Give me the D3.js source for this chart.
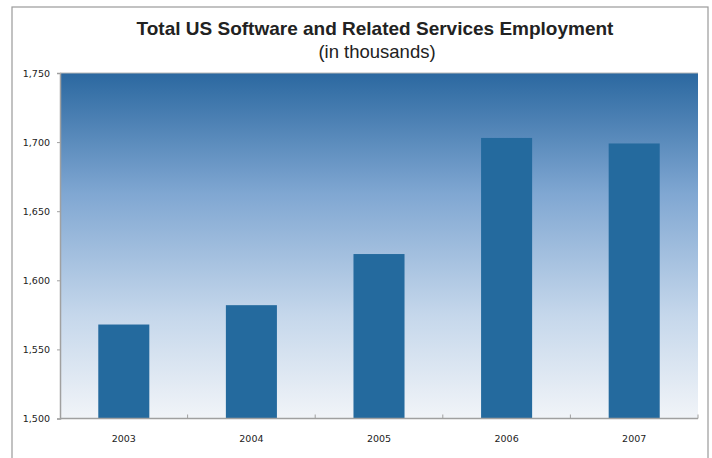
<!DOCTYPE html>
<html>
<head>
<meta charset="utf-8">
<script src="https://cdn.jsdelivr.net/npm/d3@7"></script>
<style>
  html, body { margin: 0; padding: 0; background: #ffffff; }
  svg { display: block; }
</style>
</head>
<body>
<script>
// Employment in US software and related services, thousands of jobs
const years = ["2003", "2004", "2005", "2006", "2007"];
const employment = [1568, 1582, 1619, 1703, 1699];
const yTicks = [1500, 1550, 1600, 1650, 1700, 1750];

const W = 712, H = 458;
const margin = { left: 60, right: 14, top: 73, bottom: 39.5 };

const svg = d3.select("body").append("svg")
  .attr("width", W).attr("height", H);

const defs = svg.append("defs");
const grad = defs.append("linearGradient")
  .attr("id", "plotBg").attr("x1", 0).attr("y1", 0).attr("x2", 0).attr("y2", 1);
grad.append("stop").attr("offset", "0%").attr("stop-color", "#2b68a0");
grad.append("stop").attr("offset", "35%").attr("stop-color", "#80a7d2");
grad.append("stop").attr("offset", "70%").attr("stop-color", "#c5d7eb");
grad.append("stop").attr("offset", "100%").attr("stop-color", "#f1f4f8");

// outer frame
svg.append("rect")
  .attr("x", 12).attr("y", 7).attr("width", 696).attr("height", 460)
  .attr("fill", "#ffffff").attr("stroke", "#9a9a9a").attr("stroke-width", 1.2);

const x = d3.scaleBand().domain(years)
  .range([margin.left, W - margin.right]).paddingInner(0.6).paddingOuter(0.3);
const xOuter = d3.scaleBand().domain(years)
  .range([margin.left, W - margin.right]);
const y = d3.scaleLinear().domain([1500, 1750])
  .range([H - margin.bottom, margin.top]);

// plot background
svg.append("rect")
  .attr("x", margin.left).attr("y", y(1750))
  .attr("width", W - margin.right - margin.left)
  .attr("height", y(1500) - y(1750))
  .attr("fill", "url(#plotBg)");

// bars
svg.append("g").selectAll("rect").data(years).join("rect")
  .attr("x", d => x(d))
  .attr("width", x.bandwidth())
  .attr("y", (d, i) => y(employment[i]))
  .attr("height", (d, i) => y(1500) - y(employment[i]))
  .attr("fill", "#246a9e");

// y axis
const yAxis = d3.axisLeft(y).tickValues(yTicks)
  .tickFormat(d3.format(",")).tickSize(3).tickPadding(7);
const gy = svg.append("g")
  .attr("transform", `translate(${margin.left},0)`).call(yAxis);
gy.select(".domain").attr("stroke", "#a0a0a0").attr("stroke-width", 1.5);
gy.selectAll(".tick line").attr("stroke", "#a0a0a0");
gy.selectAll("text").attr("fill", "#222")
  .style("font-family", "'DejaVu Sans', Verdana, sans-serif").style("font-size", "9.5px");

// x axis: ticks at category boundaries
const gx = svg.append("g")
  .attr("transform", `translate(0,${y(1500)})`);
gx.append("line")
  .attr("x1", margin.left).attr("x2", W - margin.right)
  .attr("stroke", "#a0a0a0").attr("stroke-width", 1.5);
gx.selectAll("line.tk").data(years.slice(1).concat(["end"])).join("line")
  .attr("class", "tk")
  .attr("x1", d => d === "end" ? W - margin.right : xOuter(d))
  .attr("x2", d => d === "end" ? W - margin.right : xOuter(d))
  .attr("y1", 0).attr("y2", -4)
  .attr("stroke", "#a0a0a0");
gx.selectAll("text").data(years).join("text")
  .attr("x", d => xOuter(d) + xOuter.bandwidth() / 2)
  .attr("y", 23)
  .attr("text-anchor", "middle")
  .attr("fill", "#222")
  .style("font-family", "'DejaVu Sans', Verdana, sans-serif").style("font-size", "9.5px")
  .text(d => d);

// top edge of plot
svg.append("line")
  .attr("x1", margin.left).attr("x2", W - margin.right)
  .attr("y1", y(1750)).attr("y2", y(1750))
  .attr("stroke", "#b8b8b8").attr("stroke-width", 1);

// titles
svg.append("text")
  .attr("x", 375).attr("y", 35)
  .attr("text-anchor", "middle")
  .attr("fill", "#222")
  .style("font-family", "'Liberation Sans', Arial, Helvetica, sans-serif")
  .style("font-size", "19px").style("font-weight", "bold")
  .text("Total US Software and Related Services Employment");
svg.append("text")
  .attr("x", 377).attr("y", 58)
  .attr("text-anchor", "middle")
  .attr("fill", "#222")
  .style("font-family", "'Liberation Sans', Arial, Helvetica, sans-serif")
  .style("font-size", "18.5px")
  .text("(in thousands)");
</script>
</body>
</html>
